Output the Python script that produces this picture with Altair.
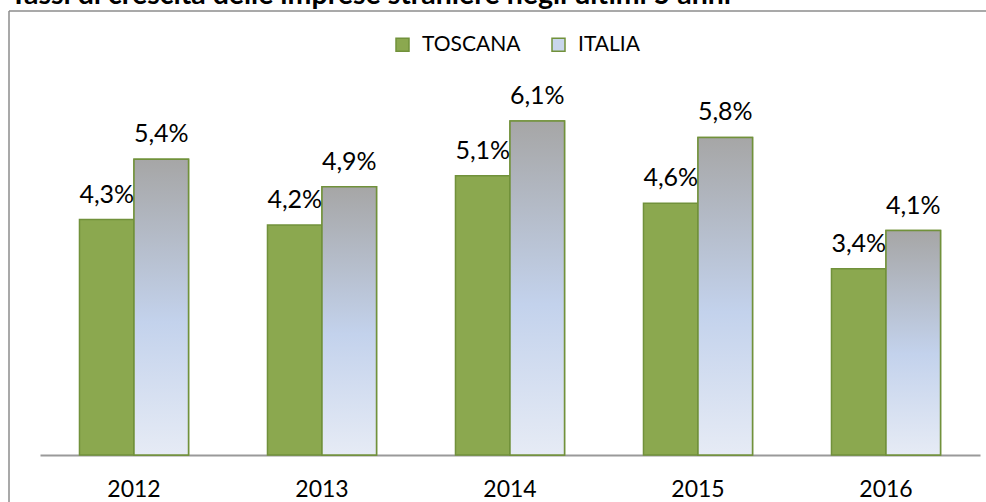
import altair as alt
import pandas as pd

anni = ["2012", "2013", "2014", "2015", "2016"]
serie = ["TOSCANA", "ITALIA"]
toscana = [4.3, 4.2, 5.1, 4.6, 3.4]
italia = [5.4, 4.9, 6.1, 5.8, 4.1]
titolo = "Tassi di crescita delle imprese straniere negli ultimi 5 anni"

rows = []
for i, a in enumerate(anni):
    rows.append({"anno": a, "serie": "TOSCANA", "valore": toscana[i] / 100})
    rows.append({"anno": a, "serie": "ITALIA", "valore": italia[i] / 100})
df = pd.DataFrame(rows)
df["etichetta"] = df["valore"].map(lambda v: f"{v * 100:.1f}".replace(".", ",") + "%")

GREEN = "#8BA84F"
EDGE = "#71913B"

x = alt.X("anno:N", sort=anni,
          scale=alt.Scale(paddingInner=0.42, paddingOuter=0.21),
          axis=alt.Axis(title=None, labelAngle=0, ticks=False, domainColor="#9a9a9a",
                        domainWidth=2, labelFont="Lato", labelFontSize=23,
                        labelColor="#000000", labelPadding=23, grid=False))
xo = alt.XOffset("serie:N", sort=serie,
                 scale=alt.Scale(domain=serie, paddingInner=0, paddingOuter=0))
y = alt.Y("valore:Q", scale=alt.Scale(domain=[0, 0.08]), axis=None)

bars = alt.Chart(df).mark_bar(stroke=EDGE, strokeWidth=1.5).encode(
    x=x, xOffset=xo, y=y,
    color=alt.Color("serie:N",
                    scale=alt.Scale(domain=serie, range=[GREEN, "#C9D6EC"]),
                    legend=alt.Legend(title=None, orient="none", legendX=352, legendY=17,
                                      direction="horizontal", symbolType="square",
                                      symbolSize=169, symbolStrokeColor=EDGE,
                                      symbolStrokeWidth=1.5, labelFont="Lato",
                                      labelFontSize=21, labelColor="#000000",
                                      labelOffset=9, columnPadding=27, padding=0,
                                      symbolOpacity=1)),
)

grad = alt.LinearGradient(
    gradient="linear",
    stops=[alt.GradientStop(color="#A6A6A6", offset=0),
           alt.GradientStop(color="#C3D2EC", offset=0.55),
           alt.GradientStop(color="#E6EBF5", offset=1)],
    x1=0, x2=0, y1=0, y2=1,
)

italia_bars = alt.Chart(df).transform_filter("datum.serie == 'ITALIA'").mark_bar(
    fill=grad, stroke=EDGE, strokeWidth=1.5
).encode(x=x, xOffset=xo, y=y)

labels = alt.Chart(df).mark_text(font="Lato", fontSize=25, baseline="alphabetic",
                                 dy=-17, color="#000000").encode(
    x=x, xOffset=xo, y=y, text="etichetta:N")

one = pd.DataFrame({"k": [0]})
frame_top = alt.Chart(one).mark_rule(color="#8c8c8c", strokeWidth=1.5).encode(
    x=alt.value(-31), x2=alt.value(960), y=alt.value(-6))
frame_left = alt.Chart(one).mark_rule(color="#8c8c8c", strokeWidth=1.5).encode(
    x=alt.value(-31), y=alt.value(-6), y2=alt.value(500))
title = alt.Chart(one).mark_text(text=titolo, font="Lato", fontSize=28.5, fontWeight="bold",
                                 align="left", baseline="alphabetic", color="#000000").encode(
    x=alt.value(-30), y=alt.value(-13))

chart = alt.layer(frame_top, frame_left, title, bars, italia_bars, labels).properties(
    width=940, height=438,
    padding={"left": 40, "top": 17, "right": 6, "bottom": 47},
    autosize=alt.AutoSizeParams(type="none"),
    background="white",
).configure_view(stroke=None)

chart.save("out.html", embed_options={"renderer": "svg", "actions": False})
